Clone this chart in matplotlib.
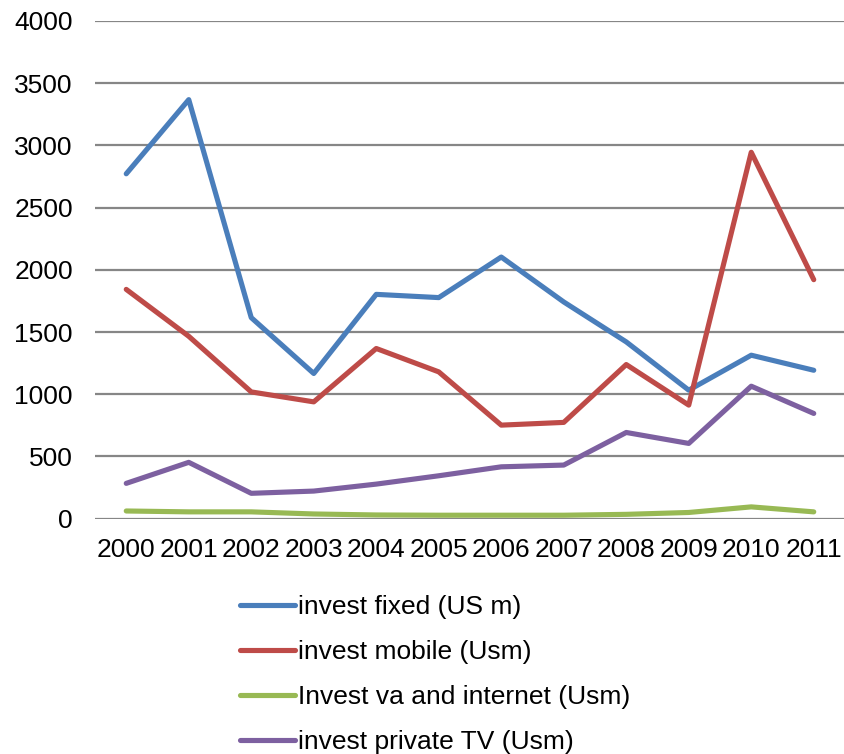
import matplotlib as mpl
mpl.use('Agg')
from matplotlib import pyplot as plt

years = ['2000', '2001', '2002', '2003', '2004', '2005',
         '2006', '2007', '2008', '2009', '2010', '2011']
invest_fixed = [2772, 3368, 1616, 1167, 1803, 1777, 2103, 1742, 1421, 1033, 1314, 1193]
invest_mobile = [1843, 1466, 1019, 939, 1368, 1180, 752, 774, 1239, 913, 2945, 1921]
invest_va = [62, 55, 55, 38, 30, 28, 28, 28, 35, 50, 95, 55]
invest_tv = [284, 453, 204, 222, 278, 345, 417, 431, 693, 605, 1065, 846]

labels = ['invest fixed (US m)', 'invest mobile (Usm)',
          'Invest va and internet (Usm)', 'invest private TV (Usm)']
colors = ['#4A7EBB', '#BE4B48', '#98B954', '#7D60A0']

plt.rcParams['font.family'] = ['Liberation Sans', 'DejaVu Sans']

fig = plt.figure(figsize=(8.44, 7.54), dpi=100)
ax = fig.add_axes([95 / 844, 1 - 518.7 / 754, 750 / 844, (518.7 - 21) / 754])

x = list(range(len(years)))
lines = []
for series, lab, col in zip([invest_fixed, invest_mobile, invest_va, invest_tv], labels, colors):
    ln, = ax.plot(x, series, color=col, lw=3.7, label=lab, solid_capstyle='round',
                  solid_joinstyle='round', zorder=3)
    lines.append(ln)

ax.set_xlim(-0.5, 11.5)
ax.set_ylim(0, 4000)
ax.set_yticks(range(0, 4001, 500))
ax.set_xticks(x)
ax.set_xticklabels(years)
ax.grid(axis='y', color='#868686', lw=1.6, zorder=1)
for s in ax.spines.values():
    s.set_visible(False)
ax.tick_params(axis='both', length=0, labelsize=19, colors='black')
ax.tick_params(axis='y', pad=16)
ax.tick_params(axis='x', pad=14)

fig.legend(handles=lines, loc='upper left', bbox_to_anchor=(240 / 844, 1 - 595 / 754),
           frameon=False, fontsize=19, handlelength=2.1, handletextpad=0.1,
           labelspacing=0.8, borderpad=0, borderaxespad=0)

plt.savefig('out.png')
